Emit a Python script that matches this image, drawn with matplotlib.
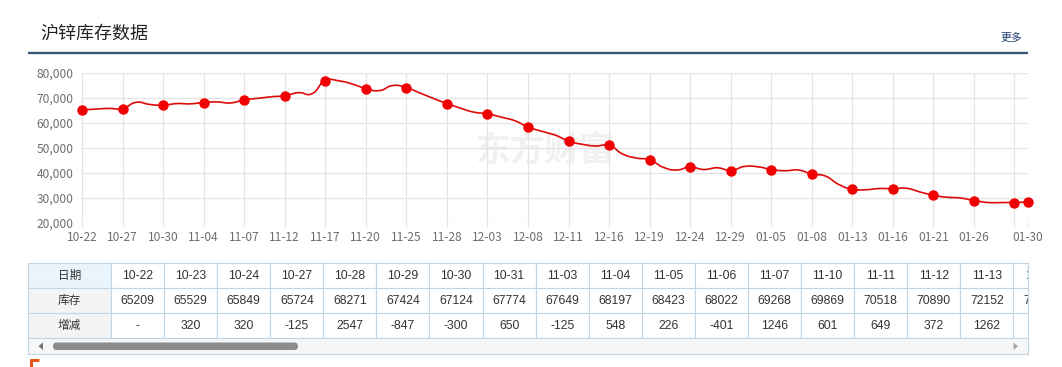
import numpy as np
import matplotlib
matplotlib.use("Agg")
import matplotlib.pyplot as plt
from matplotlib.patches import Rectangle, FancyBboxPatch, Polygon

plt.rcParams['font.family'] = ['Noto Sans CJK SC', 'DejaVu Sans']

# trading days shown on the chart
dates = ["10-22", "10-23", "10-24", "10-27", "10-28", "10-29", "10-30", "10-31",
         "11-03", "11-04", "11-05", "11-06", "11-07", "11-10", "11-11", "11-12",
         "11-13", "11-14", "11-17", "11-18", "11-19", "11-20", "11-21", "11-24",
         "11-25", "11-26", "11-27", "11-28", "12-01", "12-02", "12-03", "12-04",
         "12-05", "12-08", "12-09", "12-10", "12-11", "12-12", "12-15", "12-16",
         "12-17", "12-18", "12-19", "12-22", "12-23", "12-24", "12-25", "12-26",
         "12-29", "12-30", "12-31", "01-05", "01-06", "01-07", "01-08", "01-09",
         "01-12", "01-13", "01-14", "01-15", "01-16", "01-19", "01-20", "01-21",
         "01-22", "01-23", "01-26", "01-27", "01-28", "01-29", "01-30"]

# zinc inventory (tonnes)
stock = [65209, 65529, 65849, 65724, 68271, 67424, 67124, 67774,
         67649, 68197, 68423, 68022, 69268, 69869, 70518, 70890,
         72152, 71650, 77000, 76850, 75600, 73800, 72950, 75000,
         74150, 72000, 69800, 67800, 65940, 64330, 63700, 62330,
         60970, 58400, 56700, 55200, 52800, 51480, 50800, 51100,
         47600, 45990, 45300, 42300, 41200, 42400, 41400, 42100,
         41000, 42600, 42500, 41400, 40900, 41200, 39600, 38800,
         35400, 33500, 33300, 33800, 33700, 33900, 32400, 31100,
         30300, 30000, 29000, 28200, 28200, 28200, 28400]

table_cols = 18  # columns visible in the scrolling table

W, H = 1062, 367
fig = plt.figure(figsize=(W / 100, H / 100), dpi=100)

# overlay axes in pixel coordinates for the page furniture and the table
ov = fig.add_axes([0, 0, 1, 1], zorder=0)
ov.set_xlim(0, W)
ov.set_ylim(H, 0)
ov.axis("off")

# title bar
ov.text(40, 34, "沪锌库存数据", fontsize=13, color="#222222", va="center", ha="left")
ov.plot([28, 1028], [52.5, 52.5], color="#3b5576", lw=1.7, solid_capstyle="butt")
ov.text(1022, 38, "更多", fontsize=7.8, color="#1e3c72", va="center", ha="right")

# watermark
ov.text(545, 150, "东方财富", fontsize=25, color="#f1f1f1", fontweight="bold",
        va="center", ha="center")

# ---- line chart ----
ax = fig.add_axes([82 / W, 1 - 223 / H, 946 / W, 150 / H], zorder=1)
ax.set_facecolor("none")
n = len(stock)
x = np.arange(n)
y = np.array(stock, dtype=float)
ax.set_xlim(0, n - 1)
ax.set_ylim(20000, 80000)

tick_idx = list(range(0, n - 1, 3)) + [n - 1]
tick_lab = [dates[i] if (i % 3 == 0 and i < n - 3) or i == n - 1 else "" for i in tick_idx]
ax.set_xticks(tick_idx)
ax.set_xticklabels(tick_lab)
ax.set_yticks(range(20000, 80001, 10000))
ax.set_yticklabels([f"{v:,}" for v in range(20000, 80001, 10000)])
ax.grid(True, color="#e4e4e4", lw=0.9)
for s in ax.spines.values():
    s.set_visible(False)
ax.tick_params(axis="x", length=3, color="#e4e4e4", labelcolor="#6e6e6e",
               labelsize=8.6, pad=2.5)
ax.tick_params(axis="y", length=0, labelcolor="#6e6e6e", labelsize=8.6, pad=6)

# smooth bezier curve like the web chart, computed in pixel space
fig.canvas.draw()
pts = ax.transData.transform(np.column_stack([x, y]))
smooth = 0.5
cps = []
for i in range(n):
    p = pts[i]
    prev = pts[i - 1] if i > 0 else p
    nxt = pts[i + 1] if i < n - 1 else p
    v = nxt - prev
    d0 = np.hypot(*(p - prev))
    d1 = np.hypot(*(nxt - p))
    r = d1 / (d0 + d1) if d0 + d1 > 0 else 0.5
    cps.append((p - v * smooth * (1 - r), p + v * smooth * r))
t = np.linspace(0, 1, 20)[:, None]
curve = []
for i in range(n - 1):
    p0, p3 = pts[i], pts[i + 1]
    c1, c2 = cps[i][1], cps[i + 1][0]
    seg = (1 - t) ** 3 * p0 + 3 * (1 - t) ** 2 * t * c1 + 3 * (1 - t) * t ** 2 * c2 + t ** 3 * p3
    curve.append(seg if i == 0 else seg[1:])
curve = ax.transData.inverted().transform(np.vstack(curve))
ax.plot(curve[:, 0], curve[:, 1], color="#dd0a0a", lw=1.2, clip_on=False, zorder=3)

mark_idx = list(range(0, n - 1, 3)) + [n - 1]
ax.plot(x[mark_idx], y[mark_idx], "o", color="#f00000", ms=6.5, mec="#f00000",
        clip_on=False, zorder=4)

# ---- data table ----
left, first_w, col_w, right = 28, 83, 53.08, 1027.7
rows_y = [263, 288, 313, 338]
border = "#c3d4e2"
row_names = ["日期", "库存", "增减"]
row_bg = ["#e9f4fd", "#f4f4f4", "#f4f4f4"]
change = ["-"] + [str(stock[i] - stock[i - 1]) for i in range(1, n)]
row_vals = [dates, [str(v) for v in stock], change]

for r in range(3):
    y0, y1 = rows_y[r], rows_y[r + 1]
    ov.add_patch(Rectangle((left, y0), first_w, y1 - y0, facecolor=row_bg[r],
                           edgecolor=border, lw=0.8))
    ov.text(left + first_w / 2, (y0 + y1) / 2, row_names[r], fontsize=8.4,
            color="#333333", ha="center", va="center")
    for c in range(table_cols):
        cx = left + first_w + c * col_w
        ov.add_patch(Rectangle((cx, y0), col_w, y1 - y0, facecolor="white",
                               edgecolor=border, lw=0.8))
        ov.text(cx + col_w / 2, (y0 + y1) / 2 + 0.5, row_vals[r][c], fontsize=8.7,
                color="#333333", ha="center", va="center",
                family=["Liberation Sans", "DejaVu Sans"])

# the table scrolls: hide whatever sticks out on the right
ov.add_patch(Rectangle((right, 255), W - right, 105, facecolor="white",
                       edgecolor="none", zorder=5))
ov.plot([right, right], [rows_y[0], 354], color=border, lw=0.8, zorder=6)

# scrollbar
ov.add_patch(Rectangle((left, 338), right - left, 16, facecolor="#f6f6f6",
                       edgecolor=border, lw=0.8, zorder=6))
ov.add_patch(FancyBboxPatch((53, 342.5), 245, 7.5, boxstyle="round,pad=0,rounding_size=3.7",
                            facecolor="#8c8c8c", edgecolor="none", zorder=7))
ov.add_patch(Polygon([[38.5, 346.2], [43, 342.5], [43, 350]], closed=True,
                     facecolor="#707070", edgecolor="none", zorder=7))
ov.add_patch(Polygon([[1018, 346.2], [1013.5, 342.5], [1013.5, 350]], closed=True,
                     facecolor="#a8a8a8", edgecolor="none", zorder=7))

# small orange corner mark
ov.plot([30, 39], [359.5, 359.5], color="#e8561a", lw=2.2, solid_capstyle="butt")
ov.plot([31.3, 31.3], [358.5, 367], color="#e8561a", lw=2.2, solid_capstyle="butt")

fig.savefig("out.png", dpi=100)
